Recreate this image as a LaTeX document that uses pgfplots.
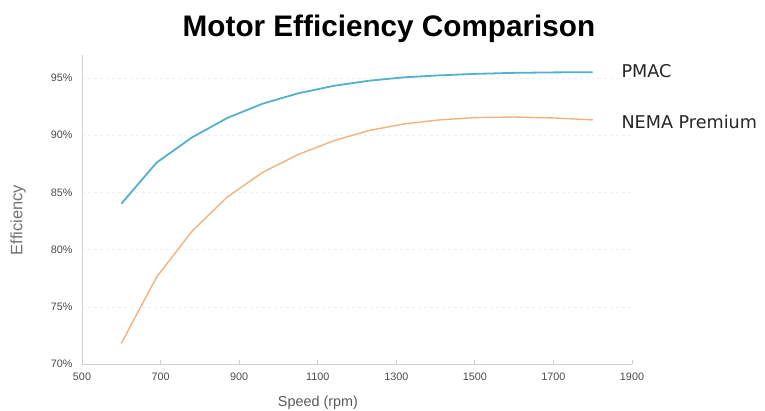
\documentclass[border=0pt]{standalone}
\usepackage{fontspec}
\setmainfont{Liberation Sans}
\newfontfamily\labfont{DejaVu Sans}
\usepackage{pgfplots}
\pgfplotsset{compat=1.18}
\definecolor{pmac}{HTML}{52B1CD}
\definecolor{nema}{HTML}{F2B27E}
\definecolor{axgray}{HTML}{CFCFCF}
\definecolor{ticktext}{HTML}{4A4A4A}
\begin{document}
\begin{tikzpicture}
\begin{axis}[
  scale only axis,
  width=550pt, height=309pt,
  at={(0pt,0pt)}, anchor=south west,
  xmin=500, xmax=1900, ymin=70, ymax=97,
  xtick={500,700,...,1900},
  ytick={70,75,...,95},
  axis lines*=left,
  axis line style={axgray, line width=0.8pt, -},
  x tick style={axgray, line width=0.8pt},
  y tick style={draw=none},
  tick align=inside,
  major tick length=4pt,
  ymajorgrids,
  grid style={gray!12, dash pattern=on 3pt off 3pt, line width=0.5pt},
  /pgf/number format/assume math mode=true,
  /pgf/number format/1000 sep={},
  ticklabel style={font=\fontsize{10.8}{12}\selectfont, text=ticktext},
  xticklabel style={yshift=-5pt},
  yticklabel style={xshift=-6pt},
  yticklabel={\pgfmathprintnumber{\tick}\%},
  clip=false,
]
\addplot[pmac, line width=1.8pt] coordinates {
(600,84.0) (690,87.6) (780,89.8) (870,91.5) (960,92.75) (1050,93.65)
(1140,94.3) (1230,94.75) (1320,95.05) (1410,95.22) (1500,95.35)
(1600,95.44) (1700,95.48) (1800,95.5)
};
\addplot[nema, line width=1.4pt] coordinates {
(600,71.8) (690,77.6) (780,81.6) (870,84.6) (960,86.75) (1050,88.3)
(1140,89.5) (1230,90.4) (1320,90.98) (1410,91.33) (1500,91.53)
(1600,91.58) (1700,91.5) (1800,91.33)
};
\end{axis}
\path[use as bounding box] (-82pt,-46pt) rectangle (683pt,364pt);
\node[anchor=west, font=\labfont\fontsize{17.6}{20}\selectfont, text=black!85] at (536pt,293pt) {PMAC};
\node[anchor=west, font=\labfont\fontsize{17.6}{20}\selectfont, text=black!85] at (536pt,242pt) {NEMA Premium};
\node[font=\bfseries\fontsize{29.7}{34}\selectfont] at (307pt,335pt) {Motor Efficiency Comparison};
\node[rotate=90, font=\fontsize{16.5}{19}\selectfont, text=black!55] at (-64pt,144pt) {Efficiency};
\node[font=\fontsize{14.4}{17}\selectfont, text=black!65] at (236pt,-39pt) {Speed (rpm)};
\end{tikzpicture}
\end{document}
